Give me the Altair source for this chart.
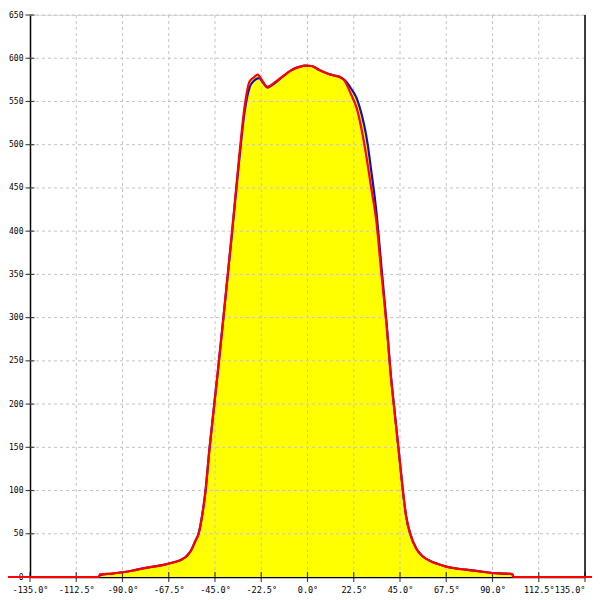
import altair as alt
import pandas as pd

# Red series (deg, value)
red_x = [-150, -101.5, -101, -95, -90, -85, -80, -75, -70, -65, -61.4, -58.5, -56.6, -54.5,
         -53, -51, -49.6, -47.7, -45.2, -43.6, -40.7, -36.7, -33.4, -30.6, -28.2,
         -26, -24.3, -22, -19.5, -16, -12, -8, -4, -1, 2, 6, 10, 13, 15, 18, 21.2, 23.7,
         27.7, 31, 33.4, 36, 38.5, 40.7, 42, 43.4, 44.9, 46.4, 48, 50.1, 52.9, 56, 60.2,
         63.5, 67.5, 72, 77, 82, 87, 90, 95, 99.7, 100, 150]
red_y = [0, 0, 3, 4, 5.5, 7.5, 10, 12, 14, 17, 20, 25, 31, 42,
         50, 75, 100, 148, 203, 238, 305, 400, 482, 544, 573,
         578, 581, 574, 567, 572, 579, 586, 590, 591.5, 591, 586, 582, 580, 579, 574, 558, 544,
         500, 450, 413, 350, 290, 228, 199, 168, 134, 100, 70, 49, 33, 24, 18,
         15, 12, 10, 8.5, 7, 5.5, 4.6, 4, 3.5, 0, 0]

# Blue series (deg, value)
blue_x = [-101.5, -101, -95, -90, -85, -80, -75, -70, -65, -61.4, -58.5, -56.6, -54.5,
          -53, -51, -49.6, -47.7, -45.2, -43.6, -40.7, -36.7, -33.4, -30.6, -28.2,
          -26, -23.4, -22, -19.5, -16, -12, -8, -4, -1, 2, 6, 10, 13, 15, 18, 21.2, 23.7,
          25.3, 29.3, 31, 33.4, 36, 38.5, 40.7, 42, 43.4, 44.9, 46.4, 48, 50.1, 52.9, 56, 60.2,
          63.5, 67.5, 72, 77, 82, 87, 90, 95, 99.7, 100]
blue_y = [0, 2, 4, 5.5, 7.5, 10, 12, 14, 17, 20, 25, 31, 42,
          50, 75, 100, 148, 203, 238, 305, 398, 478, 538, 566,
          574, 577, 573, 566, 571, 579, 586, 590, 591.5, 591, 586, 582, 580, 579, 575, 565, 555,
          544, 500, 470, 425, 358, 293, 230, 200, 168, 134, 100, 70, 49, 33, 24, 18,
          15, 12, 10, 8.5, 7, 5.5, 4.6, 4, 3.5, 0]

x_ticks = [-135, -112.5, -90, -67.5, -45, -22.5, 0, 22.5, 45, 67.5, 90, 112.5, 135]
y_ticks = [0, 50, 100, 150, 200, 250, 300, 350, 400, 450, 500, 550, 600, 650]

red = pd.DataFrame({"x": red_x, "y": red_y})
blue = pd.DataFrame({"x": blue_x, "y": blue_y})
xgrid = pd.DataFrame({"x": x_ticks[1:-1]})
ygrid = pd.DataFrame({"y": y_ticks[1:]})
xt = pd.DataFrame({"x": x_ticks, "y": [0] * len(x_ticks)})
yt = pd.DataFrame({"x": [-135] * len(y_ticks), "y": y_ticks})
rb = pd.DataFrame({"x": [135]})

FONT = "DejaVu Sans Mono"

xscale = alt.Scale(domain=[-135, 135], nice=False, zero=False)
yscale = alt.Scale(domain=[0, 650], nice=False)

xenc = alt.X("x:Q", scale=xscale, axis=alt.Axis(
    values=x_ticks, title=None, grid=False, ticks=False,
    labelExpr="(datum.value < 0 ? '-' : '') + format(abs(datum.value), '.1f') + '°'",
    labelFont=FONT, labelFontSize=8.5, labelColor="black", labelPadding=8,
    labelAlign=alt.ConditionalAxisLabelAlign(
        condition={"test": "datum.value >= 135", "value": "right"}, value="center"),
    domainColor="black", domainWidth=1.5, labelFlush=False, labelOverlap=False))
yenc = alt.Y("y:Q", scale=yscale, axis=alt.Axis(
    values=y_ticks, title=None, grid=False, ticks=False, labelFont=FONT,
    labelFontSize=8, labelColor="black", labelPadding=7,
    domainColor="black", domainWidth=1.5, labelOverlap=False))

area_r = alt.Chart(red).mark_area(color="#FFFF00", opacity=1, interpolate="monotone").encode(x=xenc, y=yenc)
area_b = alt.Chart(blue).mark_area(color="#FFFF00", opacity=1, interpolate="monotone").encode(x="x:Q", y="y:Q")

gx = alt.Chart(xgrid).mark_rule(color="#c4c4c4", strokeDash=[3, 3], strokeWidth=1).encode(x="x:Q")
gy = alt.Chart(ygrid).mark_rule(color="#c4c4c4", strokeDash=[3, 3], strokeWidth=1).encode(y="y:Q")
border = alt.Chart(rb).mark_rule(color="black", strokeWidth=1.5).encode(x="x:Q")

tx = alt.Chart(xt).mark_tick(orient="vertical", size=10, thickness=1.2, color="black", clip=False).encode(x="x:Q", y="y:Q")
ty = alt.Chart(yt).mark_tick(orient="horizontal", size=9, thickness=1.2, color="black", clip=False).encode(x="x:Q", y="y:Q")

line_b = alt.Chart(blue).mark_line(color="#1010c0", strokeWidth=2.2, interpolate="monotone").encode(x="x:Q", y="y:Q")
line_r = alt.Chart(red).mark_line(color="#ff0000", strokeWidth=2.2, clip=False, interpolate="monotone").encode(x="x:Q", y="y:Q")

chart = alt.layer(area_r, area_b, gx, gy, border, tx, ty, line_b, line_r).properties(
    width=555, height=562,
    autosize=alt.AutoSizeParams(type="none"),
    padding={"left": 22, "top": 7, "right": 7, "bottom": 20},
).configure_view(stroke=None).configure(background="white")

chart.save("out.html", embed_options={"renderer": "svg", "actions": False})
